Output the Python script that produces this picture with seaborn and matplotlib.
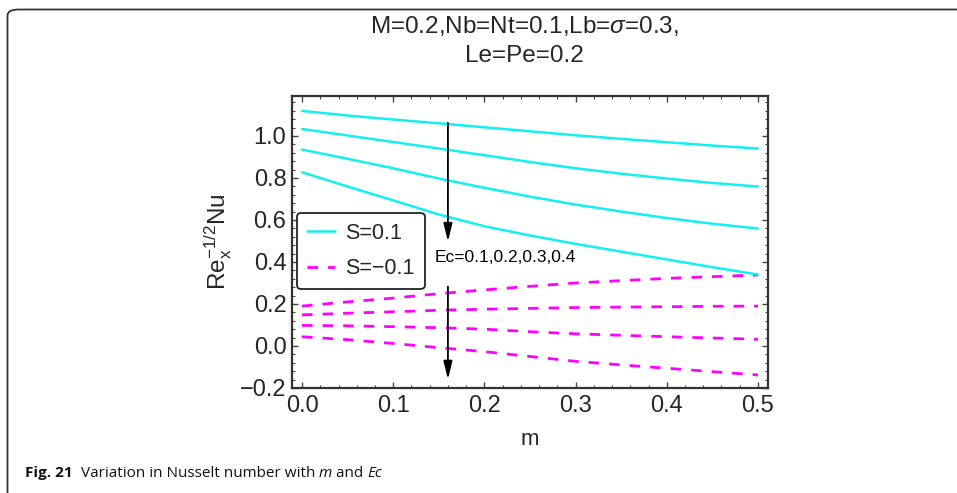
import numpy as np
import pandas as pd
import matplotlib
matplotlib.use("Agg")
import matplotlib.pyplot as plt
import seaborn as sns
from matplotlib.patches import FancyBboxPatch
from matplotlib.ticker import MultipleLocator
from matplotlib.lines import Line2D

sns.set_theme(style="white")
plt.rcParams['font.family'] = ['Liberation Sans', 'DejaVu Sans']
plt.rcParams['mathtext.fontset'] = 'custom'
plt.rcParams['mathtext.rm'] = 'Liberation Sans'
plt.rcParams['mathtext.it'] = 'Liberation Sans:italic'
plt.rcParams['mathtext.bf'] = 'Liberation Sans:bold'

# ---- data ----
m_vals = [0.0, 0.05, 0.1, 0.15, 0.2, 0.25, 0.3, 0.35, 0.4, 0.45, 0.5]
ec_labels = ["0.1", "0.2", "0.3", "0.4"]
nu_s_pos = [
    [1.119, 1.097, 1.078, 1.060, 1.041, 1.022, 1.003, 0.986, 0.970, 0.954, 0.940],
    [1.033, 1.002, 0.971, 0.940, 0.908, 0.876, 0.846, 0.820, 0.797, 0.776, 0.759],
    [0.935, 0.891, 0.846, 0.797, 0.753, 0.711, 0.673, 0.640, 0.609, 0.582, 0.559],
    [0.827, 0.759, 0.693, 0.626, 0.570, 0.526, 0.486, 0.449, 0.412, 0.375, 0.340],
]
nu_s_neg = [
    [0.190, 0.210, 0.228, 0.249, 0.267, 0.284, 0.300, 0.311, 0.322, 0.330, 0.338],
    [0.148, 0.156, 0.163, 0.170, 0.175, 0.179, 0.183, 0.185, 0.187, 0.189, 0.190],
    [0.098, 0.096, 0.092, 0.087, 0.080, 0.068, 0.058, 0.051, 0.044, 0.038, 0.032],
    [0.044, 0.030, 0.012, -0.008, -0.027, -0.050, -0.073, -0.090, -0.106, -0.122, -0.138],
]
x_ticks = [0.0, 0.1, 0.2, 0.3, 0.4, 0.5]
y_ticks = [-0.2, 0.0, 0.2, 0.4, 0.6, 0.8, 1.0]

rows = []
for ec, ys in zip(ec_labels, nu_s_pos):
    for x, y in zip(m_vals, ys):
        rows.append(dict(m=x, Nu=y, Ec=ec, S="S=0.1"))
for ec, ys in zip(ec_labels, nu_s_neg):
    for x, y in zip(m_vals, ys):
        rows.append(dict(m=x, Nu=y, Ec=ec, S="S=\u22120.1"))
df = pd.DataFrame(rows)

W, H = 957, 493
fig = plt.figure(figsize=(W / 100, H / 100), dpi=100)
fig.patch.set_facecolor("white")

# outer rounded frame
frame = FancyBboxPatch((7.5 / W, -60 / H), 1.2, (483.5 + 60) / H,
                       boxstyle="round,pad=0,rounding_size=0.012",
                       transform=fig.transFigure, fill=False,
                       edgecolor="#333333", linewidth=1.3, clip_on=False)
fig.patches.append(frame)

ax = fig.add_axes([292 / W, 1 - 388 / H, (768 - 292) / W, (388 - 96) / H])

cyan = "#14F0F0"
magenta = "#FF00FF"
dash = (0, (3.8, 3.6))
for ec in ec_labels:
    sub = df[(df.S == "S=0.1") & (df.Ec == ec)]
    sns.lineplot(data=sub, x="m", y="Nu", ax=ax, color=cyan, lw=1.8,
                 legend=False, estimator=None, sort=True)
    sub = df[(df.S == "S=\u22120.1") & (df.Ec == ec)]
    sns.lineplot(data=sub, x="m", y="Nu", ax=ax, color=magenta, lw=2.0,
                 legend=False, estimator=None, sort=True, dashes=False,
                 linestyle=dash)

ax.set_xlim(-0.011, 0.511)
ax.set_ylim(-0.2, 1.19)
ax.set_xticks(x_ticks)
ax.set_yticks(y_ticks)
ax.set_xticklabels([f"{v:.1f}" for v in x_ticks])
ax.set_yticklabels([f"{v:.1f}".replace("-", "\u2212") for v in y_ticks])
ax.xaxis.set_minor_locator(MultipleLocator(0.02))
ax.yaxis.set_minor_locator(MultipleLocator(0.04))
ax.tick_params(which="both", direction="in", top=True, right=True,
               bottom=True, left=True, color="#444444")
ax.tick_params(which="major", length=4, width=1.0, labelsize=17, pad=5)
ax.tick_params(which="minor", length=2.2, width=0.8)
ax.tick_params(axis="y", which="major", pad=4)
for s in ax.spines.values():
    s.set_color("#333333")
    s.set_linewidth(1.6)

ax.set_xlabel("m", fontsize=16, labelpad=9)
ax.set_ylabel(r"$\mathregular{Re_x^{-1/2}Nu}$", fontsize=17.5, labelpad=4)

# arrows and annotation
arr = dict(arrowstyle="-|>,head_length=0.9,head_width=0.22", color="black",
           lw=1.3, shrinkA=0, shrinkB=0)
ax.annotate("", xy=(0.16, 0.497), xytext=(0.16, 1.062), arrowprops=arr)
ax.annotate("", xy=(0.16, -0.159), xytext=(0.16, 0.283), arrowprops=arr)
ax.text(0.145, 0.42, "Ec=0.1,0.2,0.3,0.4", fontsize=12.5, ha="left",
        va="center", color="black")

# legend
handles = [Line2D([], [], color=cyan, lw=1.8),
           Line2D([], [], color=magenta, lw=2.0, linestyle=dash)]
leg = ax.legend(handles, ["S=0.1", "S=\u22120.1"], loc="upper left",
                bbox_to_anchor=((297 - 292) / 476, (388 - 213) / 292),
                fontsize=15.5, frameon=True, fancybox=True, handlelength=1.3,
                borderpad=0.45, labelspacing=0.68, handletextpad=0.5,
                borderaxespad=0)
leg.get_frame().set_edgecolor("#222222")
leg.get_frame().set_linewidth(1.3)
leg.get_frame().set_alpha(1)

# title lines
fig.text(524 / W, 1 - 26 / H, r"M=0.2,Nb=Nt=0.1,Lb=$\sigma$=0.3,", fontsize=17.5,
         ha="center", va="center")
fig.text(524 / W, 1 - 56 / H, "Le=Pe=0.2", fontsize=17.5, ha="center", va="center")

# caption with mixed styles
fig.canvas.draw()
renderer = fig.canvas.get_renderer()
cap_font = ['Open Sans', 'DejaVu Sans']
pieces = [("Fig. 21", "bold", "normal"), ("  Variation in Nusselt number with ", "normal", "normal"),
          ("m", "normal", "italic"), (" and ", "normal", "normal"), ("Ec", "normal", "italic")]
x0 = 25
for txt, wt, st in pieces:
    t = fig.text(x0 / W, 1 - 477 / H, txt, fontsize=11, family=cap_font,
                 fontweight=wt, fontstyle=st, ha="left", va="baseline",
                 color="#111111")
    bb = t.get_window_extent(renderer=renderer)
    x0 += bb.width

fig.savefig("out.png", dpi=100, facecolor="white")
